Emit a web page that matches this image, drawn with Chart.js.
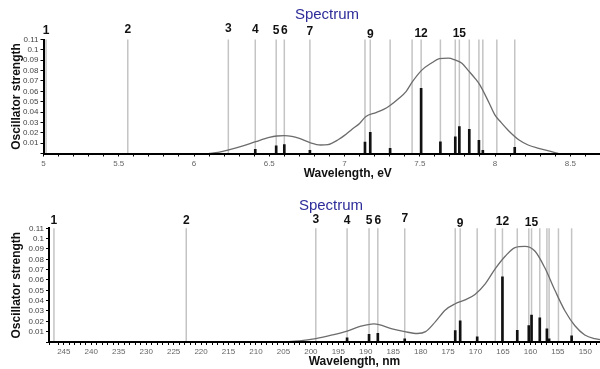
<!DOCTYPE html>
<html>
<head>
<meta charset="utf-8">
<title>Spectrum</title>
<script src="https://cdn.jsdelivr.net/npm/chart.js@4.4.1/dist/chart.umd.min.js"></script>
<style>
  html, body { margin: 0; padding: 0; background: #fff; overflow: hidden; }
  body { width: 600px; height: 369px; }
  canvas { display: block; }
</style>
</head>
<body>
<!-- the plots run on past the right edge of the picture, so the canvases are wider than the window -->
<canvas id="evChart" width="654" height="185"></canvas>
<canvas id="nmChart" width="662" height="184"></canvas>
<script>
/* ─── Data ─── */
const STATE_LABELS = ['1', '2', '3', '4', '5', '6', '7', '', '9', '', '', '12', '', '', '15', '', '', '', '', ''];

// transition positions, upper panel (eV) and lower panel (nm)
const LINES_EV = [5.017, 5.56, 6.228, 6.407, 6.546, 6.6, 6.77, 7.136, 7.171, 7.303,
                  7.449, 7.509, 7.637, 7.736, 7.763, 7.829, 7.893, 7.919, 8.012, 8.131];
const LINES_NM = [246.8, 222.7, 199.1, 193.4, 189.4, 187.8, 182.9, 173.7, 172.8, 169.7,
                  166.4, 165.1, 162.4, 160.3, 159.8, 158.3, 157.0, 156.6, 154.9, 152.5];
const OSC_STRENGTH = [0, 0, 0, 0.004, 0.0075, 0.0085, 0.003, 0.011, 0.0205, 0.005,
                      0, 0.063, 0.0113, 0.016, 0.026, 0.0233, 0.0128, 0.003, 0, 0.006];

// broadened envelope, upper panel
const CURVE_EV   = [6.10, 6.16, 6.23, 6.32, 6.41, 6.50, 6.55, 6.60, 6.65, 6.70,
                    6.77, 6.84, 6.89, 6.96, 7.00, 7.05, 7.10, 7.14, 7.21, 7.26,
                    7.30, 7.36, 7.41, 7.45, 7.51, 7.58, 7.63, 7.69, 7.73, 7.78,
                    7.82, 7.87, 7.90, 7.96, 8.00, 8.04, 8.09, 8.16, 8.22, 8.29,
                    8.37, 8.42];
const CURVE_EV_F = [0, 0.001, 0.0034, 0.007, 0.0114, 0.0155, 0.0169, 0.0172, 0.0165, 0.0145,
                    0.0105, 0.0082, 0.0086, 0.0135, 0.0175, 0.0235, 0.029, 0.0355, 0.0395, 0.0425,
                    0.046, 0.053, 0.060, 0.069, 0.080, 0.0875, 0.0915, 0.092, 0.0905, 0.087,
                    0.0805, 0.072, 0.066, 0.049, 0.037, 0.030, 0.022, 0.013, 0.0082, 0.005,
                    0.002, 0];

// broadened envelope, lower panel
const CURVE_NM   = [205, 202.1, 199.1, 196.1, 193.4, 191.2, 188.5, 187.6, 185.2, 182.9,
                    180.6, 179.1, 177.3, 175.5, 173.7, 171.9, 170.1, 168.2, 166.4, 164.6,
                    162.8, 161.0, 159.2, 157.4, 155.5, 153.7, 151.9, 150.1, 148.3, 146,
                    143];
const CURVE_NM_F = [0, 0.001, 0.0033, 0.0068, 0.0106, 0.0148, 0.0175, 0.0168, 0.0126, 0.010,
                    0.0082, 0.010, 0.0197, 0.031, 0.037, 0.0407, 0.046, 0.0565, 0.071, 0.083,
                    0.0914, 0.0925, 0.088, 0.072, 0.0495, 0.030, 0.0157, 0.0068, 0.0033, 0.0015,
                    0];

const Y_MAX  = 0.11;
const Y_STEP = 0.01;

/* ─── Style ─── */
const FONT = "'Liberation Sans', Arial, sans-serif";
// how far above the plot each state number sits (px)
const LIFT_EV = [8.5, 10, 11, 10, 8.5, 8.5, 7.5, 0, 4.5, 0, 0, 5.5, 0, 0, 6, 0, 0, 0, 0, 0];
const LIFT_NM = [8, 8, 8.5, 8, 8, 8, 10, 0, 4.5, 0, 0, 6.5, 0, 0, 6, 0, 0, 0, 0, 0];

/* gray marker for every transition + its number on top */
const transitionMarks = {
  id: 'transitionMarks',
  beforeDatasetsDraw(chart, args, opts) {
    const { ctx, chartArea, scales: { x } } = chart;
    ctx.save();
    ctx.strokeStyle = '#c4c4c4';
    ctx.lineWidth = 1.5;
    opts.positions.forEach(p => {
      const px = x.getPixelForValue(p);
      ctx.beginPath();
      ctx.moveTo(px, chartArea.top);
      ctx.lineTo(px, chartArea.bottom);
      ctx.stroke();
    });
    ctx.restore();
  },
  afterDraw(chart, args, opts) {
    const { ctx, chartArea, scales: { x } } = chart;
    ctx.save();
    ctx.font = `bold 12px ${FONT}`;
    ctx.fillStyle = '#111';
    ctx.textAlign = 'center';
    ctx.textBaseline = 'middle';
    opts.positions.forEach((p, i) => {
      if (!STATE_LABELS[i]) return;
      ctx.fillText(STATE_LABELS[i], x.getPixelForValue(p), chartArea.top - opts.lift[i]);
    });
    ctx.restore();
  },
};

function makeSpectrum(id, s) {
  const sticks = s.lines.map((x, i) => ({ x, y: OSC_STRENGTH[i] }));
  const curve  = s.curveX.map((x, i) => ({ x, y: s.curveY[i] }));

  return new Chart(document.getElementById(id), {
    type: 'bar',
    data: {
      datasets: [
        {
          type: 'line',
          data: curve,
          borderColor: '#6c6c6c',
          borderWidth: 1.3,
          pointRadius: 0,
          cubicInterpolationMode: 'monotone',
          fill: false,
          order: 1,
        },
        {
          type: 'bar',
          data: sticks,
          backgroundColor: '#111',
          borderWidth: 0,
          barThickness: 2,
          order: 0,
        },
      ],
    },
    options: {
      responsive: false,
      animation: false,
      events: [],
      layout: { padding: 0 },
      plugins: {
        legend: { display: false },
        tooltip: { enabled: false },
        title: {
          display: true,
          text: 'Spectrum',
          color: '#2d2d9a',
          font: { family: FONT, size: 15, weight: 'normal', lineHeight: 1.2 },
          padding: s.titlePad,
        },
        transitionMarks: { positions: s.lines, lift: s.lift },
      },
      scales: {
        x: {
          type: 'linear',
          min: s.xMin,
          max: s.xMax,
          reverse: s.reverse,
          offset: false,
          border: { display: true, color: '#000', width: 2, z: 1 },
          grid: { display: true, offset: false, drawOnChartArea: false, tickLength: 3, color: '#000', tickColor: '#000', tickWidth: 1 },
          ticks: {
            stepSize: s.minorStep,
            autoSkip: false,
            maxRotation: 0,
            minRotation: 0,
            padding: 2,
            color: '#666',
            font: { family: FONT, size: 8 },
            callback(v) {
              const k = v / s.majorStep;
              if (Math.abs(k - Math.round(k)) > 1e-6) return '';
              if (v < s.labelMin || v > s.labelMax) return '';
              return String(Math.round(v * 10) / 10);
            },
          },
          title: {
            display: true,
            text: s.xTitle,
            color: '#111',
            font: { family: FONT, size: 12, weight: 'bold', lineHeight: 1.2 },
            padding: { top: 0, bottom: s.xTitleBottom },
          },
          afterFit(axis) { axis.height = s.xAxisHeight; },
        },
        y: {
          min: 0,
          max: Y_MAX,
          border: { display: true, color: '#000', width: 2, z: 1 },
          grid: { display: true, drawOnChartArea: false, tickLength: 3, color: '#000', tickColor: '#000', tickWidth: 1 },
          ticks: {
            stepSize: Y_STEP,
            autoSkip: false,
            padding: 2,
            color: '#444',
            font: { family: FONT, size: 8 },
            callback: v => (v === 0 ? '' : String(Math.round(v * 100) / 100)),
          },
          title: {
            display: true,
            text: 'Oscillator strength',
            color: '#111',
            font: { family: FONT, size: 12, weight: 'bold', lineHeight: 1.2 },
            padding: { top: 9, bottom: 0 },
          },
          afterFit(axis) { axis.width = s.yAxisWidth; },
        },
      },
    },
    plugins: [transitionMarks],
  });
}

/* ─── BOOT ─── */
makeSpectrum('evChart', {
  lines: LINES_EV,
  curveX: CURVE_EV,
  curveY: CURVE_EV_F,
  xMin: 5,
  xMax: 9.043,
  reverse: false,
  minorStep: 0.1,
  majorStep: 0.5,
  labelMin: 5,
  labelMax: 8.6,
  xTitle: 'Wavelength, eV',
  xTitleBottom: 4.3,
  xAxisHeight: 31.5,
  yAxisWidth: 43.5,
  titlePad: { top: 6, bottom: 15.5 },
  lift: LIFT_EV,
});

makeSpectrum('nmChart', {
  lines: LINES_NM,
  curveX: CURVE_NM,
  curveY: CURVE_NM_F,
  xMin: 136.4,
  xMax: 247.7,
  reverse: true,
  minorStep: 1,
  majorStep: 5,
  labelMin: 148,
  labelMax: 250,
  xTitle: 'Wavelength, nm',
  xTitleBottom: 0.5,
  xAxisHeight: 27,
  yAxisWidth: 49,
  titlePad: { top: 11.5, bottom: 13.8 },
  lift: LIFT_NM,
});
</script>
</body>
</html>
